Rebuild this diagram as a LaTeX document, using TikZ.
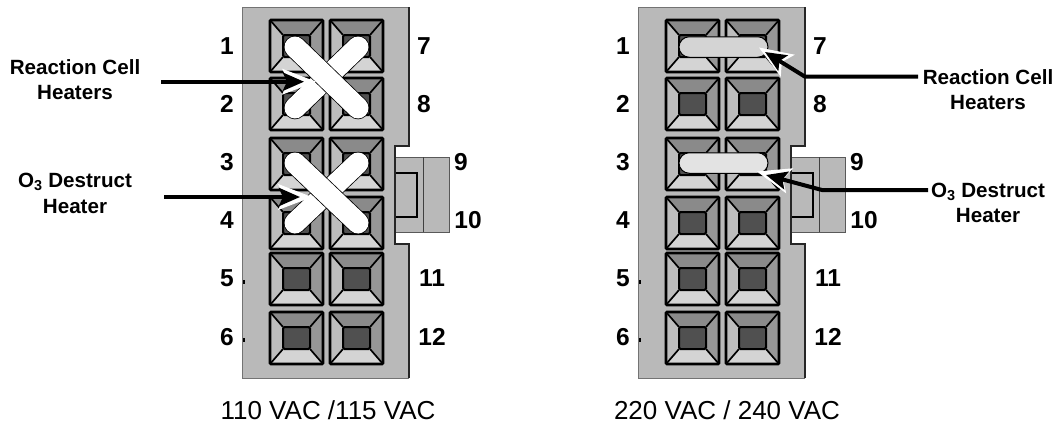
\documentclass[tikz,border=0pt]{standalone}
\usepackage{fontspec}
\setmainfont{Liberation Sans}
\usepackage{tikz}
\usetikzlibrary{arrows.meta,calc,shapes.misc}

\definecolor{bodygray}{HTML}{B9B9B9}
\definecolor{pintop}{HTML}{8A8A8A}
\definecolor{pinleft}{HTML}{BDBDBD}
\definecolor{pinright}{HTML}{979797}
\definecolor{pinbottom}{HTML}{D4D4D4}
\definecolor{pincore}{HTML}{505050}

\tikzset{
  pin/.pic={
    \fill[pintop] (0,0) -- (53,0) -- (40,15) -- (13,15) -- cycle;
    \fill[pinright] (53,0) -- (53,52) -- (40,37) -- (40,15) -- cycle;
    \fill[pinleft] (0,0) -- (0,52) -- (13,37) -- (13,15) -- cycle;
    \fill[pinbottom] (0,52) -- (53,52) -- (40,37) -- (13,37) -- cycle;
    \draw[line width=1.7pt] (0,0) -- (13,15) (53,0) -- (40,15) (0,52) -- (13,37) (53,52) -- (40,37);
    \draw[fill=pincore, line width=2pt, rounded corners=1.5pt] (13,15) rectangle (40,37);
    \draw[line width=2.6pt, rounded corners=1pt] (0,0) rectangle (53,52);
  },
  connector/.pic={
    % tab on the side
    \draw[fill=bodygray, draw=black!65, line width=1pt] (395,157) rectangle (449,232);
    \draw[black!75, line width=1pt] (423,157) -- (423,232);
    \draw[line width=1.6pt] (395,173) -| (417,217) -- (395,217);
    % housing
    \fill[bodygray] (242,7) -| (409,146) -| (395,244) -| (409,378) -| cycle;
    \draw[black!55, line width=1pt] (409,378) -- (242,378) -- (242,7) -- (409,7);
    \draw[black!85, line width=1.3pt] (409,7) |- (395,146) |- (409,244) -- (409,378);
    \draw[line width=1.5pt] (244,280) -- (244,284) (244,338) -- (244,342);
    \foreach \py [count=\i] in {20,78,138,197,253,312} {
      \pic at (270,\py) {pin};
      \pic at (330,\py) {pin};
    }
    % contact numbers
    \foreach \py/\lb/\rb in {46/1/7,104/2/8,278/5/11,337/6/12} {
      \node[digit] (lb\lb) at (227,\py) {\lb};
      \node[digit] (rb\rb) at (\ifnum\rb>9 432\else 424\fi,\py) {\rb};
    }
    \node[digit] (lb3) at (227,162) {3};
    \node[digit] (lb4) at (227,220) {4};
    \node[digit] (rb9) at (461,162) {9};
    \node[digit] (rb10) at (468,220) {10};
  },
  digit/.style={font=\fontsize{24.5}{24.5}\selectfont\bfseries, inner sep=0pt},
  heatertext/.style={font=\fontsize{20.6}{25.5}\selectfont\bfseries, align=center, inner sep=0pt},
  voltage/.style={font=\fontsize{26}{26}\selectfont, inner sep=0pt},
  crossbar/.style={line cap=round, draw=black, line width=0.8pt, double=white, double distance=21pt},
  jumper/.style={rounded rectangle, draw=black, line width=1pt, fill=#1, minimum width=89pt, minimum height=20.5pt, inner sep=0pt},
  flow/.style={line width=4pt, -{Stealth[length=21pt,width=18pt,inset=4pt]}},
  halo/.style={white, line width=1pt, -{Stealth[length=34pt,width=26pt,inset=7pt]}},
}

\begin{document}
\begin{tikzpicture}[x=1pt, y=-1pt]
\useasboundingbox (0,0) rectangle (1057,424);

% 110/115 VAC connector
\pic at (0,0) {connector};
\draw[crossbar] (358,47) coordinate (xa1) -- (295,108) coordinate (xa2);
\draw[crossbar] (295,47) coordinate (xb1) -- (358,108) coordinate (xb2);
\draw[crossbar] (358,163) coordinate (xc1) -- (295,223) coordinate (xc2);
\draw[crossbar] (295,163) coordinate (xd1) -- (358,223) coordinate (xd2);

% 220/240 VAC connector
\pic at (396,0) {connector};
\node[jumper=black!17] (bridgeA) at (723.5,47) {};
\node[jumper=black!11] (bridgeB) at (723.5,163) {};

% heater labels
\node[heatertext] (cellL) at (75,79.5) {Reaction Cell\\Heaters};
\node[heatertext] (ozoneL) at (75,193.5) {O\textsubscript{3} Destruct\\Heater};
\node[heatertext] (cellR) at (988,89.5) {Reaction Cell\\Heaters};
\node[heatertext] (ozoneR) at (988,203) {O\textsubscript{3} Destruct\\Heater};

\node[voltage] (capL) at (328,410) {110 VAC /115 VAC};
\node[voltage] (capR) at (727,410) {220 VAC / 240 VAC};

% arrows, white edge first
\coordinate (startA) at (161,81.7);
\coordinate (startB) at (164,197);
\coordinate (kneeA) at (805,76.7);
\coordinate (kneeB) at (822,190);
\coordinate (endA) at (918,76.7);
\coordinate (endB) at (928,190);
\draw[halo] (272,81.7) -- (316,81.7);
\draw[halo] (268,197) -- (312,197);
\draw[halo] (kneeA) -- (759,47.5);
\draw[halo] (kneeB) -- (757,171.5);
\draw[flow] (startA) -- (304,81.7);
\draw[flow] (startB) -- (300,197);
\draw[flow] (endA) -- (kneeA) -- (765,52);
\draw[flow] (endB) -- (kneeB) -- (766,175);

\end{tikzpicture}
\end{document}
